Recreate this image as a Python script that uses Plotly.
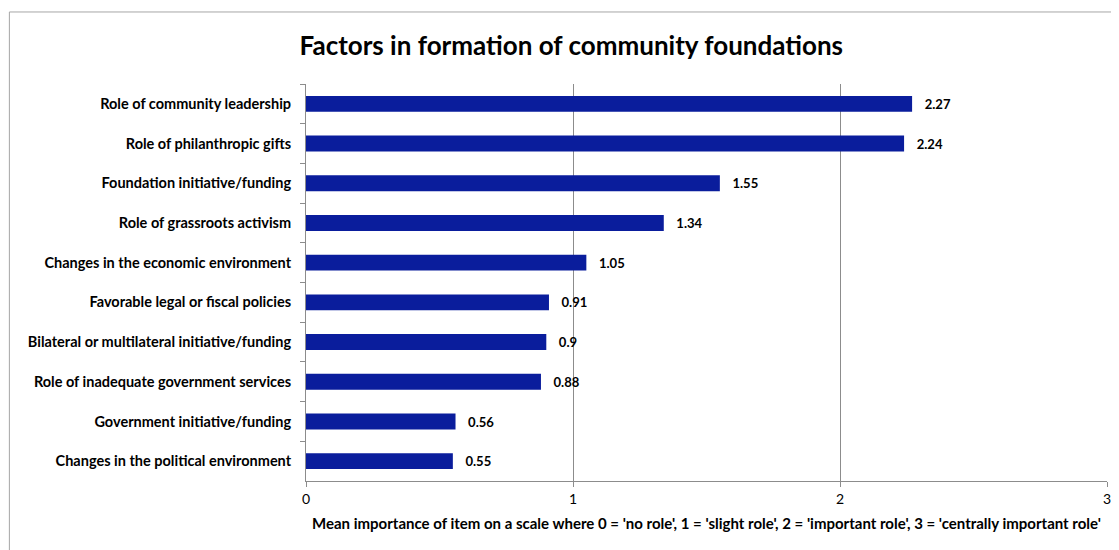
import plotly.graph_objects as go

factors = [
    "Role of community leadership",
    "Role of philanthropic gifts",
    "Foundation initiative/funding",
    "Role of grassroots activism",
    "Changes in the economic environment",
    "Favorable legal or fiscal policies",
    "Bilateral or multilateral initiative/funding",
    "Role of inadequate government services",
    "Government initiative/funding",
    "Changes in the political environment",
]
mean_importance = [2.27, 2.24, 1.55, 1.34, 1.05, 0.91, 0.9, 0.88, 0.56, 0.55]
x_ticks = [0, 1, 2, 3]

FONT = "Lato, 'Open Sans', sans-serif"
BAR = "#0a1d9c"

# page body adds an 8px offset, so the figure is sized to fit the window
W, H = 1111, 542

fig = go.Figure(
    go.Bar(
        x=mean_importance,
        y=factors,
        orientation="h",
        width=0.4,
        marker=dict(color=BAR, line=dict(width=0)),
        text=[f"\u00a0\u00a0\u00a0{v:g}" for v in mean_importance],
        textposition="outside",
        textfont=dict(family=FONT, size=14, color="#000000", weight="bold"),
        cliponaxis=False,
    )
)

fig.update_layout(
    width=W,
    height=H,
    paper_bgcolor="white",
    plot_bgcolor="white",
    margin=dict(l=298, r=8, t=76, b=69),
    showlegend=False,
    font=dict(family=FONT, color="#000000"),
    title=dict(
        text="<b>Factors in formation of community foundations</b>",
        x=0.507,
        xanchor="center",
        xref="container",
        y=1 - 38 / H,
        yanchor="middle",
        font=dict(family=FONT, size=26, color="#000000"),
    ),
    shapes=[
        dict(
            type="rect", xref="paper", yref="paper",
            x0=-0.3703, x1=1.03, y0=-0.2, y1=1.1814,
            line=dict(color="#a6a6a6", width=1), fillcolor="rgba(0,0,0,0)",
            layer="below",
        )
    ],
)

fig.update_xaxes(
    range=[0, 3],
    tickvals=x_ticks,
    showgrid=True,
    gridcolor="#8c8c8c",
    gridwidth=1,
    zeroline=False,
    showline=True,
    linecolor="#8c8c8c",
    ticks="outside",
    ticklen=5,
    tickcolor="#8c8c8c",
    tickfont=dict(family=FONT, size=14, color="#000000"),
    title=dict(
        text="<b>Mean importance of item on a scale where 0 = 'no role', 1 = 'slight role', "
        "2 = 'important role', 3 = 'centrally important role'</b>",
        font=dict(family=FONT, size=15, color="#000000"),
        standoff=12,
    ),
)

fig.update_yaxes(
    autorange="reversed",
    showline=True,
    linecolor="#8c8c8c",
    ticks="outside",
    tickson="boundaries",
    ticklen=5,
    tickcolor="#8c8c8c",
    showgrid=False,
    tickfont=dict(family=FONT, size=14.5, color="#000000", weight="bold"),
    ticklabelstandoff=11,
)

fig.write_html("out.html")
